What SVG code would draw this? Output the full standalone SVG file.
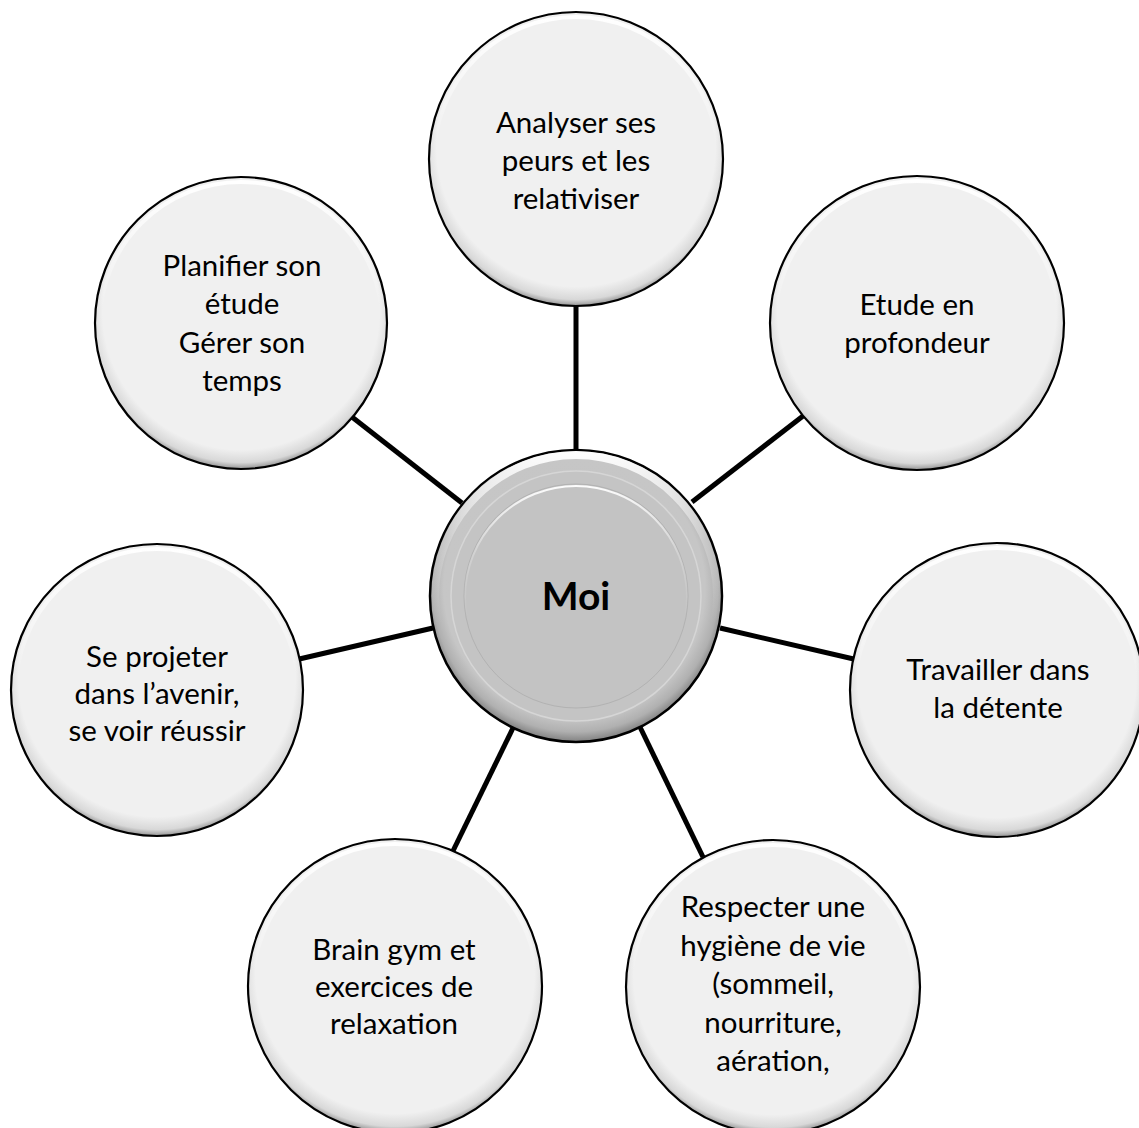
<svg xmlns="http://www.w3.org/2000/svg" width="1139" height="1128" viewBox="0 0 1139 1128">
<style>
.lbl{font-family:Lato,"Liberation Sans",sans-serif;font-size:29.5px;fill:#000;text-anchor:middle}
.hub{font-family:Lato,"Liberation Sans",sans-serif;font-size:39px;font-weight:bold;fill:#000;text-anchor:middle}
.ball{fill:url(#ballGrad);stroke:#000;stroke-width:2.2}
.rim{fill:none;stroke:url(#rimGrad);stroke-width:4}
.conn{stroke:#000;stroke-width:5;fill:none}
</style>
<defs>
<radialGradient id="ballGrad" cx="0.5" cy="0.46" r="0.545">
<stop offset="0" stop-color="#f0f0f0"/>
<stop offset="0.87" stop-color="#f0f0f0"/>
<stop offset="0.95" stop-color="#d8d8d8"/>
<stop offset="1" stop-color="#858585"/>
</radialGradient>
<linearGradient id="rimGrad" x1="0" y1="0" x2="0" y2="1">
<stop offset="0" stop-color="#ffffff" stop-opacity="1"/>
<stop offset="0.45" stop-color="#ffffff" stop-opacity="0"/>
<stop offset="1" stop-color="#ffffff" stop-opacity="0"/>
</linearGradient>
<radialGradient id="hubRing" cx="0.5" cy="0.48" r="0.52" fx="0.46" fy="0.42">
<stop offset="0" stop-color="#c4c4c4"/>
<stop offset="0.86" stop-color="#c6c6c6"/>
<stop offset="0.94" stop-color="#b0b0b0"/>
<stop offset="1" stop-color="#808080"/>
</radialGradient>
<linearGradient id="hubHi" x1="0" y1="0" x2="0" y2="1">
<stop offset="0" stop-color="#ffffff" stop-opacity="0.95"/>
<stop offset="0.3" stop-color="#ffffff" stop-opacity="0.25"/>
<stop offset="0.6" stop-color="#ffffff" stop-opacity="0"/>
</linearGradient>
</defs>
<rect width="1139" height="1128" fill="#fff"/>
<g id="connectors">
<line class="conn" x1="576" y1="450" x2="576" y2="305"/>
<line class="conn" x1="462" y1="503" x2="352" y2="417"/>
<line class="conn" x1="692" y1="502" x2="803" y2="416"/>
<line class="conn" x1="433" y1="628" x2="295" y2="660"/>
<line class="conn" x1="720" y1="628" x2="858" y2="660"/>
<line class="conn" x1="513" y1="728" x2="451" y2="855"/>
<line class="conn" x1="640" y1="727" x2="703" y2="857"/>
</g>
<g id="node-moi">
<circle cx="576" cy="596" r="146" fill="url(#hubRing)" stroke="#000" stroke-width="2.5"/>
<circle cx="576" cy="596" r="141" fill="none" stroke="url(#hubHi)" stroke-width="8"/>
<circle cx="576" cy="596" r="125" fill="#c4c4c4" stroke="#d6d6d6" stroke-width="1.5"/>
<circle cx="576" cy="596" r="112" fill="#c3c3c3" stroke="#b2b2b2" stroke-width="1"/>
<circle cx="576" cy="597" r="111" fill="none" stroke="url(#hubHi)" stroke-width="2"/>
<text class="hub" x="576" y="610">Moi</text>
</g>
<g id="node-analyser">
<circle class="ball" cx="576" cy="159" r="147"/>
<circle class="rim" cx="576" cy="159" r="142"/>
<text class="lbl" x="576" y="133">Analyser ses</text>
<text class="lbl" x="576" y="171">peurs et les</text>
<text class="lbl" x="576" y="209">relativiser</text>
</g>
<g id="node-planifier">
<circle class="ball" cx="241" cy="323" r="146"/>
<circle class="rim" cx="241" cy="323" r="141"/>
<text class="lbl" x="242" y="276">Planifier son</text>
<text class="lbl" x="242" y="314">étude</text>
<text class="lbl" x="242" y="353">Gérer son</text>
<text class="lbl" x="242" y="391">temps</text>
</g>
<g id="node-etude">
<circle class="ball" cx="917" cy="323" r="147"/>
<circle class="rim" cx="917" cy="323" r="142"/>
<text class="lbl" x="917" y="315">Etude en</text>
<text class="lbl" x="917" y="353">profondeur</text>
</g>
<g id="node-projeter">
<circle class="ball" cx="157" cy="690" r="146"/>
<circle class="rim" cx="157" cy="690" r="141"/>
<text class="lbl" x="157" y="667">Se projeter</text>
<text class="lbl" x="157" y="704">dans l’avenir,</text>
<text class="lbl" x="157" y="741">se voir réussir</text>
</g>
<g id="node-travailler">
<circle class="ball" cx="997" cy="690" r="147"/>
<circle class="rim" cx="997" cy="690" r="142"/>
<text class="lbl" x="998" y="680">Travailler dans</text>
<text class="lbl" x="998" y="718">la détente</text>
</g>
<g id="node-brain">
<circle class="ball" cx="395" cy="986" r="147"/>
<circle class="rim" cx="395" cy="986" r="142"/>
<text class="lbl" x="394" y="960">Brain gym et</text>
<text class="lbl" x="394" y="997">exercices de</text>
<text class="lbl" x="394" y="1034">relaxation</text>
</g>
<g id="node-respecter">
<circle class="ball" cx="773" cy="987" r="147"/>
<circle class="rim" cx="773" cy="987" r="142"/>
<text class="lbl" x="773" y="917">Respecter une</text>
<text class="lbl" x="773" y="956">hygiène de vie</text>
<text class="lbl" x="773" y="994">(sommeil,</text>
<text class="lbl" x="773" y="1033">nourriture,</text>
<text class="lbl" x="773" y="1071">aération,</text>
</g>
</svg>
